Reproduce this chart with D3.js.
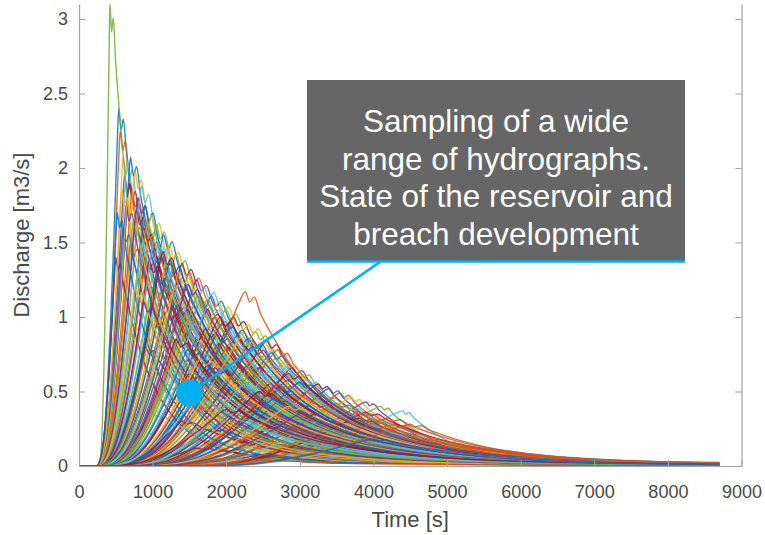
<!DOCTYPE html>
<html>
<head>
<meta charset="utf-8">
<script src="https://cdn.jsdelivr.net/npm/d3@7"></script>
<style>
  html, body { margin: 0; padding: 0; background: #ffffff; }
  svg { display: block; font-family: "Liberation Sans", Arial, Helvetica, sans-serif; }
</style>
</head>
<body>
<script>
// ---- Sampled breach hydrographs: one entry per simulation ----
// time at which the outflow starts to rise [s]
const breachStart = [
  250, 240, 250, 230, 270, 260, 240, 250, 250, 260, 250, 240, 260, 250, 250, 260, 250, 240, 260, 250,
  250, 270, 260, 280, 270, 290, 280, 300, 300, 320, 320, 340, 350, 370, 380, 400, 420, 440, 460, 480,
  500, 520, 560, 600, 620, 650, 680, 700, 740, 780, 820, 880, 940, 1000, 1080, 1150, 1250, 1350, 1450, 1600,
  1750, 1900,
  240, 250, 250, 260, 260, 270, 280, 300, 320, 340, 360, 380, 400, 430, 460, 500, 540, 580, 620, 660,
  700, 760, 820, 900, 980, 1060, 1150, 1250, 1350, 1450, 1600,
  260, 270, 290, 320, 350, 390, 430, 480, 540, 600, 680, 760, 850, 950, 1050, 1200, 1350,
  300, 350, 420, 500, 600, 750, 900, 1100, 380, 560, 460,
  250, 255, 250, 260, 270, 280, 290, 300, 310, 330, 360, 390, 440, 520, 640, 860, 1100, 1300, 1500,
  245, 1200, 250, 255, 260, 265, 275, 285, 1000, 300, 320, 340, 370, 400, 450, 1400, 500, 560, 640, 720,
  800, 900, 1500, 260, 270, 280, 300, 330, 370, 800, 420, 480, 540, 620, 700, 800, 1700, 900, 1000, 280,
  320, 400, 1600
];
// time of the peak discharge [s]
const peakTime = [
  540, 560, 600, 620, 420, 650, 680, 700, 720, 760, 800, 820, 850, 880, 900, 950, 980, 1000, 1050, 1080,
  1120, 1150, 1200, 1230, 1280, 1320, 1370, 1400, 1450, 1500, 1550, 1600, 1650, 1700, 1750, 1800, 1850, 1900, 1950, 2000,
  2060, 2100, 2160, 2260, 2300, 2350, 2400, 2480, 2550, 2620, 2700, 2800, 2900, 3000, 3100, 3250, 3400, 3550, 3700, 3900,
  4100, 4400,
  500, 600, 700, 800, 900, 1000, 1100, 1200, 1300, 1400, 1500, 1600, 1700, 1800, 1900, 2000, 2100, 2200, 2300, 2400,
  2500, 2600, 2750, 2900, 3050, 3200, 3400, 3600, 3800, 4000, 4300,
  700, 900, 1100, 1300, 1500, 1700, 1900, 2100, 2300, 2500, 2700, 2900, 3100, 3300, 3500, 3800, 4100,
  1000, 1400, 1800, 2200, 2600, 3000, 3400, 3800, 1600, 2400, 2000,
  580, 640, 740, 860, 960, 1060, 1180, 1260, 1340, 1460, 1580, 1720, 1880, 2050, 2420, 2850, 3300, 3600, 3900,
  520, 3500, 660, 780, 920, 1020, 1140, 1240, 3100, 1360, 1480, 1620, 1760, 1920, 2080, 3800, 2200, 2360, 2520, 2680,
  2850, 3000, 4200, 760, 880, 1020, 1160, 1320, 1480, 2700, 1650, 1850, 2050, 2250, 2450, 2650, 4500, 2850, 3050, 1200,
  1600, 2000, 4000
];
// peak discharge [m3/s]
const peakFlow = [
  2.40, 2.25, 2.08, 1.95, 3.10, 2.05, 1.90, 2.07, 1.85, 1.98, 1.80, 1.70, 1.88, 1.60, 1.75, 1.55, 1.68, 1.45, 1.62, 1.50,
  1.40, 1.55, 1.35, 1.48, 1.30, 1.42, 1.25, 1.36, 1.20, 1.30, 1.15, 1.25, 1.10, 1.20, 1.05, 1.14, 1.00, 1.10, 0.96, 1.05,
  0.92, 1.00, 0.88, 1.17, 0.95, 0.84, 0.90, 0.80, 0.84, 0.76, 0.78, 0.70, 0.66, 0.63, 0.58, 0.55, 0.52, 0.49, 0.46, 0.43,
  0.40, 0.37,
  1.40, 1.60, 1.50, 1.30, 1.40, 1.20, 1.25, 1.05, 1.10, 0.95, 1.00, 0.85, 0.90, 0.78, 0.82, 0.70, 0.75, 0.65, 0.68, 0.60,
  0.62, 0.55, 0.52, 0.48, 0.45, 0.42, 0.38, 0.35, 0.32, 0.30, 0.28,
  0.90, 0.80, 0.75, 0.70, 0.62, 0.58, 0.52, 0.48, 0.44, 0.40, 0.36, 0.33, 0.30, 0.27, 0.24, 0.22, 0.20,
  0.35, 0.30, 0.25, 0.20, 0.16, 0.12, 0.10, 0.08, 0.12, 0.08, 0.05,
  1.85, 1.75, 1.65, 1.50, 1.38, 1.30, 1.22, 1.15, 1.08, 1.02, 0.96, 0.92, 0.88, 0.82, 0.72, 0.58, 0.47, 0.40, 0.36,
  1.70, 0.42, 1.80, 1.72, 1.62, 1.52, 1.44, 1.38, 0.50, 1.30, 1.22, 1.15, 1.08, 1.00, 0.94, 0.36, 0.86, 0.80, 0.74, 0.68,
  0.62, 0.56, 0.32, 1.20, 1.10, 1.00, 0.92, 0.85, 0.78, 0.55, 0.72, 0.66, 0.60, 0.55, 0.50, 0.45, 0.28, 0.40, 0.36, 0.55,
  0.45, 0.38, 0.18
];
// recession time scale of the falling limb [s]
const recession = [
  520, 560, 600, 650, 380, 620, 700, 680, 750, 720, 800, 820, 780, 850, 850, 900, 880, 950, 900, 950,
  1000, 950, 1000, 980, 1050, 1000, 1050, 1020, 1080, 1050, 1100, 1060, 1100, 1080, 1120, 1100, 1120, 1080, 1150, 1100,
  1150, 1120, 1150, 1000, 1100, 1150, 1100, 1120, 1080, 1100, 1050, 1080, 1050, 1020, 1000, 980, 950, 920, 900, 850,
  800, 720,
  500, 650, 750, 850, 900, 1000, 1000, 1100, 1100, 1150, 1150, 1200, 1150, 1200, 1150, 1200, 1150, 1200, 1150, 1200,
  1150, 1200, 1150, 1200, 1300, 1350, 1300, 1250, 1200, 1100, 1000,
  800, 950, 1050, 1150, 1200, 1250, 1250, 1300, 1300, 1350, 1350, 1400, 1400, 1450, 1400, 1350, 1300,
  1100, 1200, 1300, 1400, 1500, 1500, 1500, 1500, 1400, 1500, 1600,
  560, 640, 720, 820, 900, 950, 1000, 1050, 1080, 1100, 1120, 1150, 1150, 1150, 1200, 1250, 1400, 1450, 1300,
  520, 1350, 640, 760, 860, 920, 980, 1020, 1400, 1060, 1080, 1100, 1120, 1150, 1150, 1400, 1180, 1200, 1200, 1150,
  1150, 1200, 1300, 800, 900, 1000, 1100, 1150, 1200, 1450, 1250, 1250, 1300, 1300, 1350, 1350, 1200, 1400, 1400, 1200,
  1300, 1400, 1300
];

// Dimensionless hydrograph shape (rising limb as fraction of rise time, falling limb in recession scales)
const riseFrac = [0, 0.15, 0.30, 0.45, 0.60, 0.75, 0.88, 0.95, 1.00];
const riseRatio = [0, 0.02, 0.08, 0.20, 0.38, 0.60, 0.82, 0.94, 1.00];
const fallSteps = [0.06, 0.12, 0.20, 0.35, 0.55, 0.80, 1.10, 1.50, 2.00, 2.70, 3.60, 4.80, 6.50];
const fallRatio = [0.94, 0.97, 0.88, 0.76, 0.62, 0.48, 0.36, 0.25, 0.16, 0.09, 0.05, 0.025, 0.012];

const simulationEnd = 8700;

// Axis ticks
const xTicks = [0, 1000, 2000, 3000, 4000, 5000, 6000, 7000, 8000, 9000];
const yTicks = [0, 0.5, 1, 1.5, 2, 2.5, 3];

// MATLAB default line colour order
const lineColors = ["#0072BD", "#D95319", "#EDB120", "#7E2F8E", "#77AC30", "#4DBEEE", "#A2142F"];

const W = 765, H = 535;
const svg = d3.select("body").append("svg").attr("width", W).attr("height", H);

const x = d3.scaleLinear().domain([0, 9000]).range([79, 741.5]);
const y = d3.scaleLinear().domain([0, 3.1]).range([466, 4.1]);

// Build each hydrograph from its own start, peak and recession
const hydrographs = peakTime.map((tp, i) => {
  const t0 = breachStart[i], qp = peakFlow[i], k = recession[i];
  const pts = [[0, 0]];
  riseFrac.forEach((f, j) => pts.push([t0 + f * (tp - t0), riseRatio[j] * qp]));
  fallSteps.forEach((f, j) => pts.push([tp + f * k, fallRatio[j] * qp]));
  const last = pts[pts.length - 1];
  if (last[0] < simulationEnd) pts.push([simulationEnd, last[1] * 0.7]);
  return pts;
});

svg.append("defs").append("clipPath").attr("id", "plot-clip")
  .append("rect")
  .attr("x", x(0)).attr("y", y(3.1))
  .attr("width", x(simulationEnd) - x(0))
  .attr("height", y(0) - y(3.1) + 0.5);

const line = d3.line()
  .x(d => x(d[0]))
  .y(d => y(d[1]))
  .curve(d3.curveMonotoneX);

svg.append("g").attr("clip-path", "url(#plot-clip)")
  .selectAll("path")
  .data(hydrographs)
  .join("path")
  .attr("d", line)
  .attr("fill", "none")
  .attr("stroke", (d, i) => lineColors[i % lineColors.length])
  .attr("stroke-width", 1.4)
  .attr("stroke-opacity", 0.85);

// Axes (MATLAB style: inward ticks, light grey box)
const axisColor = "#a3a3a3";
const labelColor = "#4a4a4a";

const gx = svg.append("g").attr("transform", `translate(0,${y(0)})`)
  .call(d3.axisBottom(x).tickValues(xTicks).tickFormat(d3.format("d"))
    .tickSizeInner(-6).tickSizeOuter(0).tickPadding(19));
const gy = svg.append("g").attr("transform", `translate(${x(0)},0)`)
  .call(d3.axisLeft(y).tickValues(yTicks).tickFormat(d3.format("~g"))
    .tickSizeInner(-6).tickSizeOuter(0).tickPadding(11));
const gr = svg.append("g").attr("transform", `translate(${x(9000)},0)`)
  .call(d3.axisRight(y).tickValues(yTicks).tickFormat("")
    .tickSizeInner(-6).tickSizeOuter(0));

[gx, gy, gr].forEach(g => {
  g.select(".domain").attr("stroke", axisColor).attr("stroke-width", 1.2);
  g.selectAll(".tick line").attr("stroke", axisColor).attr("stroke-width", 1);
  g.selectAll(".tick text").attr("fill", labelColor).attr("font-size", 18);
});

svg.append("text")
  .attr("x", (x(0) + x(9000)) / 2).attr("y", 527)
  .attr("text-anchor", "middle")
  .attr("font-size", 22).attr("fill", labelColor)
  .text("Time [s]");

svg.append("text")
  .attr("transform", `translate(29,${(y(0) + y(3.1)) / 2}) rotate(-90)`)
  .attr("text-anchor", "middle")
  .attr("font-size", 22).attr("fill", labelColor)
  .text("Discharge [m3/s]");

// Callout
const accent = "#00B0F0";
const box = { x0: 307, x1: 685, y0: 80, y1: 262 };
svg.append("line")
  .attr("x1", 380).attr("y1", box.y1)
  .attr("x2", x(1500)).attr("y2", y(0.49))
  .attr("stroke", accent).attr("stroke-width", 2.6);
svg.append("circle")
  .attr("cx", x(1500)).attr("cy", y(0.49)).attr("r", 13.3)
  .attr("fill", accent);
svg.append("rect")
  .attr("x", box.x0).attr("y", box.y0)
  .attr("width", box.x1 - box.x0).attr("height", box.y1 - box.y0)
  .attr("fill", "#666666");
svg.append("line")
  .attr("x1", box.x0).attr("x2", box.x1)
  .attr("y1", box.y1 - 0.5).attr("y2", box.y1 - 0.5)
  .attr("stroke", accent).attr("stroke-width", 2.6);

const calloutLines = [
  "Sampling of a wide",
  "range of hydrographs.",
  "State of the reservoir and",
  "breach development"
];
svg.append("g").selectAll("text")
  .data(calloutLines)
  .join("text")
  .attr("x", (box.x0 + box.x1) / 2)
  .attr("y", (d, i) => 132 + i * 37.7)
  .attr("text-anchor", "middle")
  .attr("font-size", 31.5)
  .attr("fill", "#ffffff")
  .text(d => d);
</script>
</body>
</html>
